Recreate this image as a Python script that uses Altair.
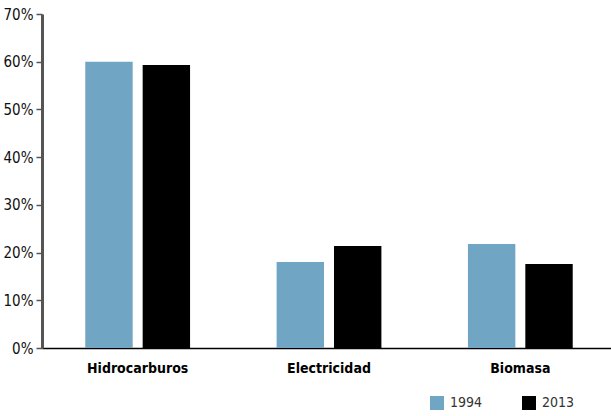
import altair as alt
import pandas as pd

# Share of final energy consumption by source, 1994 vs 2013
categories = ["Hidrocarburos", "Electricidad", "Biomasa"]
years = ["1994", "2013"]
values_1994 = [60.0, 18.0, 21.8]
values_2013 = [59.3, 21.4, 17.6]

rows = []
for cat, v94, v13 in zip(categories, values_1994, values_2013):
    rows.append({"fuente": cat, "anio": "1994", "valor": v94 / 100})
    rows.append({"fuente": cat, "anio": "2013", "valor": v13 / 100})
df = pd.DataFrame(rows)

FONT = "'DejaVu Sans Condensed', 'Liberation Sans Narrow', sans-serif"

chart = (
    alt.Chart(df)
    .mark_bar()
    .encode(
        x=alt.X(
            "fuente:N",
            sort=categories,
            scale=alt.Scale(range=[0, 574], paddingInner=0, paddingOuter=0),
            axis=alt.Axis(
                title=None, labelAngle=0, ticks=False, grid=False,
                domainColor="#000000", domainWidth=1.5, labelFont=FONT,
                labelFontSize=14, labelFontWeight="bold", labelColor="#000000",
                labelPadding=13,
            ),
        ),
        xOffset=alt.XOffset(
            "anio:N",
            scale=alt.Scale(paddingInner=0.174, paddingOuter=0.754),
        ),
        y=alt.Y(
            "valor:Q",
            scale=alt.Scale(domain=[0, 0.7], nice=False),
            axis=alt.Axis(
                title=None, format=".0%", values=[0, 0.1, 0.2, 0.3, 0.4, 0.5, 0.6, 0.7],
                grid=False, domainColor="#555555", domainWidth=3,
                tickColor="#555555", tickWidth=1.5, tickSize=6, labelPadding=3,
                labelFont=FONT, labelFontSize=15, labelColor="#111111",
            ),
        ),
        color=alt.Color(
            "anio:N",
            scale=alt.Scale(domain=years, range=["#70A5C3", "#000000"]),
            legend=alt.Legend(
                title=None, orient="none", direction="horizontal",
                legendX=388, legendY=382, symbolType="square", symbolSize=196,
                symbolStrokeWidth=0, labelFont=FONT, labelFontSize=14,
                labelColor="#333333", columnPadding=39, labelOffset=6,
            ),
        ),
    )
    .properties(
        width=569,
        height=334,
        padding={"left": 42, "top": 14, "right": 0, "bottom": 68},
        autosize=alt.AutoSizeParams(type="none"),
        background="#ffffff",
    )
    .configure_view(stroke="#ffffff", strokeWidth=2)
)

chart.save("out.html", embed_options={"renderer": "svg", "actions": False})
